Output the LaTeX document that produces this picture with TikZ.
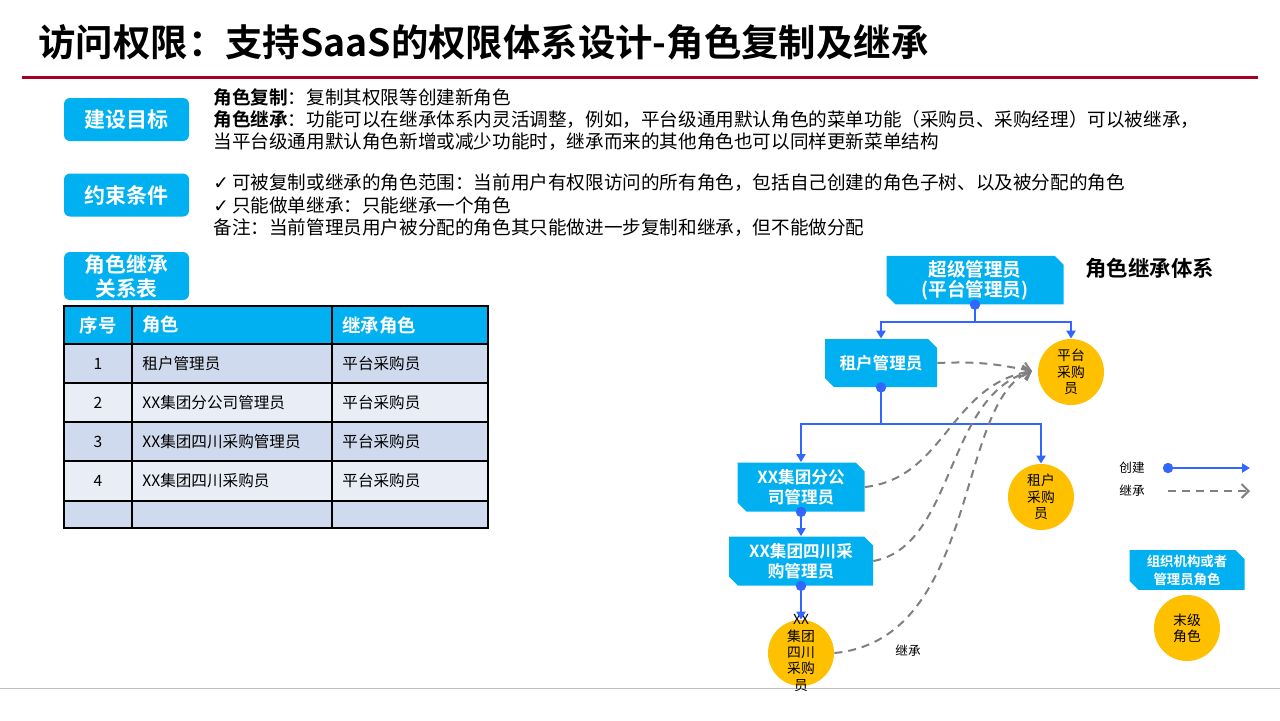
\documentclass[tikz,border=0pt]{standalone}
\usepackage{fontspec}
\setmainfont{Noto Sans CJK SC}[BoldFont={Noto Sans CJK SC Bold}]
\newfontfamily\checkfont{DejaVu Sans}
\usepackage{xcolor}
\usetikzlibrary{positioning,arrows.meta,calc,shapes.misc,shapes.geometric}
\definecolor{cyanbox}{HTML}{00B0F0}
\definecolor{linkb}{HTML}{3366FF}
\definecolor{inhg}{HTML}{808080}
\definecolor{leaf}{HTML}{FFC000}
\definecolor{rulered}{HTML}{A50021}
\definecolor{rowd}{HTML}{D0DAEE}
\definecolor{rowl}{HTML}{E9EDF6}
\definecolor{baseg}{HTML}{BFBFBF}

\begin{document}
\begin{tikzpicture}[x=0.5pt,y=-0.5pt,
  tag/.style={fill=cyanbox,rounded corners=3pt,minimum width=62.5pt,minimum height=21.5pt,
              inner sep=0pt,text=white,align=center,font=\fontsize{10.5}{12}\selectfont\bfseries},
  body/.style={anchor=west,inner sep=0pt,font=\fontsize{9.3}{11}\selectfont},
  cell/.style={inner sep=0pt,font=\fontsize{7.8}{9}\selectfont},
  head/.style={inner sep=0pt,text=white,font=\fontsize{9.2}{11}\selectfont\bfseries},
  role/.style={chamfered rectangle,chamfered rectangle corners={north east,south west},
               chamfered rectangle xsep=2.2pt,chamfered rectangle ysep=2.2pt,fill=cyanbox,
               text=white,inner sep=0pt,align=center,font=\fontsize{8.3}{10}\selectfont\bfseries},
  leafc/.style={circle,fill=leaf,minimum size=33pt,inner sep=0pt,align=center,
                font=\fontsize{6.9}{8.2}\selectfont},
  legt/.style={inner sep=0pt,font=\fontsize{6.3}{7.5}\selectfont},
  create/.style={draw=linkb,line width=1pt,-{Triangle[length=4pt,width=4.5pt]}},
  inherit/.style={draw=inhg,line width=1pt,dash pattern=on 4pt off 3pt,
                  -{Straight Barb[length=3.5pt,width=7pt]}},
]
\useasboundingbox (0,0) rectangle (1280,720);
\fill[white] (0,0) rectangle (1280,720);

% header
\node[anchor=west,inner sep=0pt,font=\fontsize{18.7}{20}\selectfont\bfseries] (title) at (38,42)
  {访问权限：支持SaaS的权限体系设计-角色复制及继承};
\draw[rulered,line width=1.5pt] (22,77) -- (1258,77);
\draw[baseg,line width=0.5pt] (0,688) -- (1280,688);

% goals and limits
\node[tag] (goal) at (126.5,119.5) {建设目标};
\node[tag] (limit) at (126.5,195) {约束条件};
\node[tag,minimum height=24pt,font=\fontsize{10.4}{12}\selectfont\bfseries] (tabtag) at (126.5,276) {角色继承\\关系表};

\node[body] (g1) at (213,97) {{\bfseries 角色复制}：复制其权限等创建新角色};
\node[body] (g2) at (213,119.5) {{\bfseries 角色继承}：功能可以在继承体系内灵活调整，例如，平台级通用默认角色的菜单功能（采购员、采购经理）可以被继承，};
\node[body] (g3) at (213,142) {当平台级通用默认角色新增或减少功能时，继承而来的其他角色也可以同样更新菜单结构};
\node[body] (c1) at (213,183) {{\checkfont ✓}\,可被复制或继承的角色范围：当前用户有权限访问的所有角色，包括自己创建的角色子树、以及被分配的角色};
\node[body] (c2) at (213,205) {{\checkfont ✓}\,只能做单继承：只能继承一个角色};
\node[body] (c3) at (213,228) {备注：当前管理员用户被分配的角色其只能做进一步复制和继承，但不能做分配};

% table
\fill[cyanbox] (64,306) rectangle (488,344);
\foreach \ya/\yb/\c in {344/383/rowd,383/422/rowl,422/461/rowd,461/501/rowl,501/528/rowd}
  \fill[\c] (64,\ya) rectangle (488,\yb);
\draw[line width=0.6pt] (64,306) rectangle (488,528);
\foreach \x in {132,332} \draw[line width=0.6pt] (\x,306) -- (\x,528);
\foreach \y in {344,383,422,461,501} \draw[line width=0.6pt] (64,\y) -- (488,\y);
\node[head] (hno) at (98,325) {序号};
\node[head,anchor=west] (hrole) at (142,325) {角色};
\node[head,anchor=west] (hpar) at (342,325) {继承角色};
\foreach \n/\r [count=\i] in {1/租户管理员,2/XX集团分公司管理员,3/XX集团四川采购管理员,4/XX集团四川采购员}{
  \node[cell] (no\i) at (98,{324.5+39*\i}) {\n};
  \node[cell,anchor=west] (ro\i) at (142,{324.5+39*\i}) {\r};
  \node[cell,anchor=west] (pa\i) at (342,{324.5+39*\i}) {平台采购员};
}

% role tree
\node[role,minimum width=88.5pt,minimum height=22pt,font=\fontsize{9.3}{10}\selectfont\bfseries] (super) at (975,280) {超级管理员\\(平台管理员)};
\node[anchor=west,inner sep=0pt,font=\fontsize{10.7}{12}\selectfont\bfseries] (treetitle) at (1085,268) {角色继承体系};
\node[role,minimum width=56pt,minimum height=24pt] (tenant) at (881,363) {租户管理员};
\node[leafc] (pcirc) at (1071,372) {平台\\采购\\员};
\node[role,minimum width=63.5pt,minimum height=24.5pt] (sub) at (801,487) {XX集团分公\\司管理员};
\node[leafc] (ctenant) at (1041,497) {租户\\采购\\员};
\node[role,minimum width=72pt,minimum height=24.5pt] (sc) at (801,561) {XX集团四川采\\购管理员};
\node[leafc] (ccirc) at (801,653) {};
\node[legt,align=center,font=\fontsize{6.9}{8.2}\selectfont] (ccirctxt) at (ccirc) {XX\\集团\\四川\\采购\\员};
\node[legt] (inhlab) at (908,651) {继承};

\draw[create] (super.south) -- ++(0,17) -| (tenant.north);
\draw[create] ($(super.south)+(0,17)$) -| (pcirc.north);
\draw[create] (tenant.south) -- ++(0,37) -| (sub.north);
\draw[create] ($(tenant.south)+(0,37)$) -| (ctenant.north);
\draw[create] (sub.south) -- (sc.north);
\draw[create] (sc.south) -- (ccirc.north);
\foreach \d in {super,tenant,sub,sc} \fill[linkb] (\d.south) circle[radius=2.6pt];

\coordinate (inh) at (1032,371);
\draw[inherit] (tenant.east) .. controls +(45,-2) and +(-32,-6) .. (inh);
\draw[inherit] (sub.east) .. controls +(80,-9) and +(-82,14) .. (inh);
\draw[inherit] (sc.east) .. controls +(82,-15) and +(-87,24) .. (inh);
\draw[inherit] (ccirc.east) .. controls +(146,-14) and +(-77,29) .. (inh);

% legend
\node[legt] (lgc) at (1132,468) {创建};
\node[legt] (lgi) at (1132,491) {继承};
\coordinate (lc0) at (1168,468); \coordinate (lc1) at (1250,468);
\coordinate (li0) at (1168,491); \coordinate (li1) at (1250,491);
\fill[linkb] (lc0) circle[radius=2.6pt];
\draw[create] (lc0) -- (lc1);
\draw[inherit] (li0) -- (li1);
\node[role,minimum width=57.5pt,minimum height=19.5pt,font=\fontsize{6.7}{9}\selectfont\bfseries] (orgbox) at (1187,570) {组织机构或者\\管理员角色};
\node[leafc] (endcirc) at (1187,628) {末级\\角色};
\end{tikzpicture}
\end{document}
